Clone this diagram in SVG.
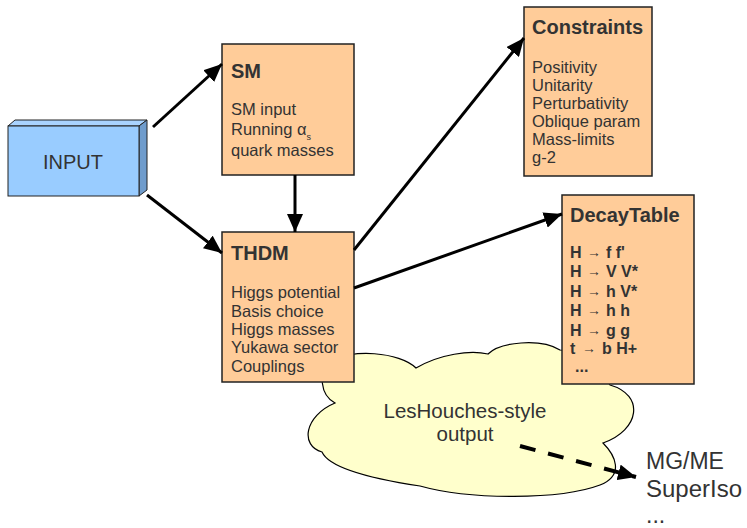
<svg xmlns="http://www.w3.org/2000/svg" width="747" height="528" viewBox="0 0 747 528">
<defs>
<style>
.box{fill:#ffcc99;stroke:#222;stroke-width:1.5}
.t{font-family:"Liberation Sans",Arial,sans-serif;fill:#333}
.title{font-size:20px;font-weight:bold}
.body{font-size:16.5px}
.dt{font-size:16px;font-weight:bold}
.arr{font-size:14px;font-weight:bold}
.conn{stroke:#000;stroke-width:3;fill:none}
</style>
<marker id="ah" markerUnits="userSpaceOnUse" markerWidth="20" markerHeight="16" refX="18" refY="8" orient="auto">
<path d="M0,0 L18,8 L0,16 Z" fill="#000"/>
</marker>
</defs>
<rect width="747" height="528" fill="#fff"/>

<g id="cloud">
<path d="M335,403 C304,416 300,446 322,452 C330,470 380,480 420,486 C470,500 560,500 600,485 C625,475 615,455 603,443 C640,430 645,395 610,385 C600,370 580,350 560,350 C540,338 500,342 488,354 C470,350 440,354 416,368 C400,352 350,348 330,362 C318,372 320,395 335,403 Z" fill="#ffffcc" stroke="#000" stroke-width="1.2"/>
<text class="t" x="465" y="418" font-size="20.5" text-anchor="middle">LesHouches-style</text>
<text class="t" x="465" y="441" font-size="20.5" text-anchor="middle">output</text>
</g>

<g id="input">
<polygon points="8,126 15,120 147,120 139,126" fill="#a9d3ff" stroke="#222" stroke-width="1"/>
<polygon points="139,126 147,120 147,190 139,196" fill="#6f9ccc" stroke="#222" stroke-width="1"/>
<rect x="8" y="126" width="131" height="70" fill="#99ccff" stroke="#222" stroke-width="1"/>
<text class="t" x="73" y="169" font-size="20" text-anchor="middle">INPUT</text>
</g>

<g id="sm">
<rect class="box" x="222" y="44" width="132" height="131"/>
<text class="t title" x="231" y="78">SM</text>
<text class="t body" x="231" y="115">SM input</text>
<text class="t body" x="231" y="135">Running α<tspan font-size="9" dy="5">s</tspan></text>
<text class="t body" x="231" y="156">quark masses</text>
</g>

<g id="thdm">
<rect class="box" x="222" y="232" width="132" height="150"/>
<text class="t title" x="231" y="260">THDM</text>
<text class="t body" x="231" y="298">Higgs potential</text>
<text class="t body" x="231" y="317">Basis choice</text>
<text class="t body" x="231" y="335">Higgs masses</text>
<text class="t body" x="231" y="353">Yukawa sector</text>
<text class="t body" x="231" y="372">Couplings</text>
</g>

<g id="constraints">
<rect class="box" x="524" y="7" width="128" height="169"/>
<text class="t title" x="532" y="34">Constraints</text>
<text class="t body" x="532" y="73">Positivity</text>
<text class="t body" x="532" y="91">Unitarity</text>
<text class="t body" x="532" y="109">Perturbativity</text>
<text class="t body" x="532" y="127">Oblique param</text>
<text class="t body" x="532" y="145">Mass-limits</text>
<text class="t body" x="532" y="163">g-2</text>
</g>

<g id="decaytable">
<rect class="box" x="562" y="195" width="132" height="189"/>
<text class="t title" x="570" y="222">DecayTable</text>
<text class="t dt" x="570" y="258">H<tspan class="arr" x="587" dy="-1">→</tspan><tspan x="606" dy="1">f f'</tspan></text>
<text class="t dt" x="570" y="277">H<tspan class="arr" x="587" dy="-1">→</tspan><tspan x="606" dy="1">V V*</tspan></text>
<text class="t dt" x="570" y="297">H<tspan class="arr" x="587" dy="-1">→</tspan><tspan x="606" dy="1">h V*</tspan></text>
<text class="t dt" x="570" y="316">H<tspan class="arr" x="587" dy="-1">→</tspan><tspan x="606" dy="1">h h</tspan></text>
<text class="t dt" x="570" y="336">H<tspan class="arr" x="587" dy="-1">→</tspan><tspan x="606" dy="1">g g</tspan></text>
<text class="t dt" x="570" y="354">t<tspan class="arr" x="582" dy="-1">→</tspan><tspan x="602" dy="1">b H+</tspan></text>
<text class="t dt" x="575" y="372">...</text>
</g>

<g id="targets">
<text class="t" x="646" y="469" font-size="23">MG/ME</text>
<text class="t" x="646" y="497" font-size="24">SuperIso</text>
<text class="t" x="646" y="523" font-size="23">...</text>
</g>

<g id="connectors">
<line class="conn" x1="153" y1="127" x2="222" y2="64" marker-end="url(#ah)"/>
<line class="conn" x1="147" y1="195" x2="222" y2="253" marker-end="url(#ah)"/>
<line class="conn" x1="295" y1="175" x2="295" y2="232" marker-end="url(#ah)"/>
<line class="conn" x1="354" y1="250" x2="524" y2="38" marker-end="url(#ah)"/>
<line class="conn" x1="354" y1="288" x2="562" y2="214" marker-end="url(#ah)"/>
<line x1="520" y1="446" x2="636" y2="477" stroke="#000" stroke-width="4" stroke-dasharray="16 13" marker-end="url(#ah)"/>
</g>
</svg>
